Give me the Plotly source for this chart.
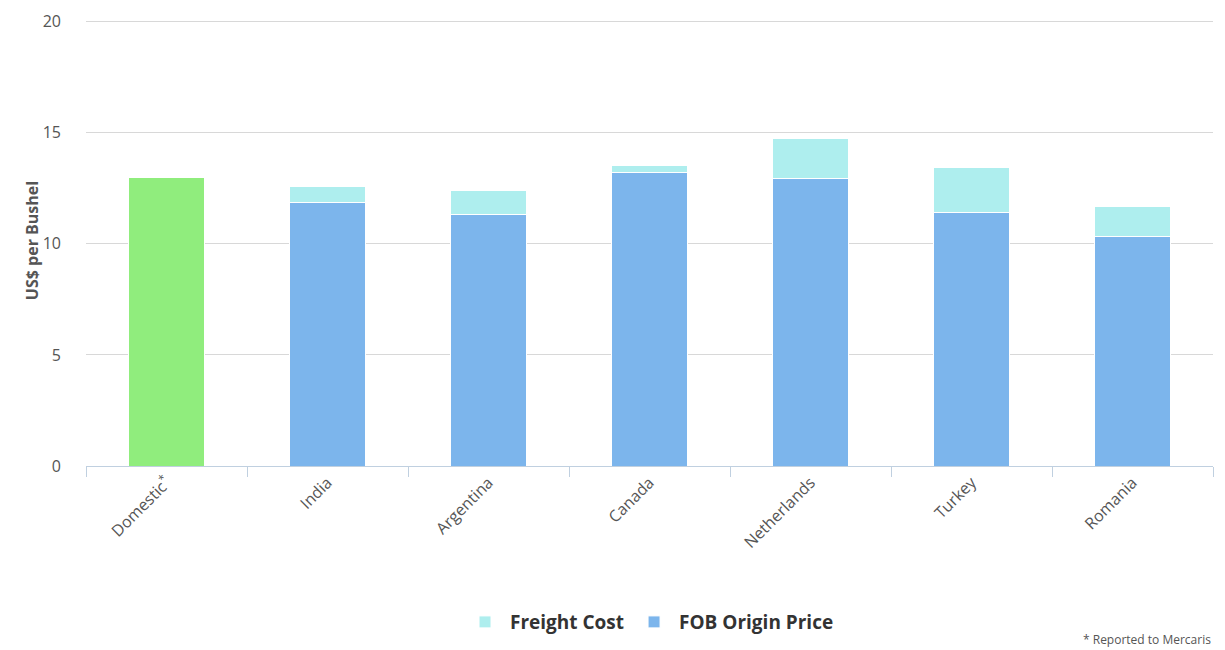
import plotly.graph_objects as go

categories = ["Domestic<sup>*</sup>", "India", "Argentina", "Canada", "Netherlands", "Turkey", "Romania"]
domestic_price = [13.0, None, None, None, None, None, None]
fob_origin_price = [None, 11.85, 11.32, 13.23, 12.93, 11.40, 10.32]
freight_cost = [None, 0.72, 1.10, 0.28, 1.83, 2.04, 1.38]

fig = go.Figure()
fig.add_trace(go.Bar(x=categories, y=domestic_price, name="Domestic", showlegend=False,
                     marker=dict(color="#90ed7d", line=dict(color="white", width=1)), width=0.47))
fig.add_trace(go.Bar(x=categories, y=fob_origin_price, name="FOB Origin Price",
                     marker=dict(color="#7cb5ec", line=dict(color="white", width=1)), width=0.47))
fig.add_trace(go.Bar(x=categories, y=freight_cost, name="Freight Cost",
                     marker=dict(color="#aeeeee", line=dict(color="white", width=1)), width=0.47))

fig.update_layout(
    barmode="stack",
    width=1217, height=642,
    margin=dict(l=78, r=12, t=7, b=184, autoexpand=False),
    plot_bgcolor="white", paper_bgcolor="white",
    font=dict(family="Open Sans, DejaVu Sans, sans-serif", color="#555555", size=14),
    showlegend=True,
    legend=dict(orientation="h", x=0.5, xanchor="center", y=-0.346, yanchor="middle",
                traceorder="reversed",
                font=dict(size=19, color="#333333", family="Open Sans", weight="bold"),
                itemwidth=40),
    xaxis=dict(
        showline=True, linecolor="#c0d0e0", linewidth=1,
        ticks="outside", tickson="boundaries", ticklen=10, tickcolor="#c0d0e0",
        tickangle=-45, tickfont=dict(size=16, color="#555555"),
        showgrid=False,
    ),
    yaxis=dict(
        range=[0, 20.3], tickvals=[0, 5, 10, 15, 20], showgrid=True, gridcolor="#d8d8d8", gridwidth=1,
        zeroline=False, showline=False,
        tickfont=dict(size=16, color="#555555"), ticks="", ticklabelstandoff=24,
        title=dict(text="US$ per Bushel", font=dict(size=16, color="#555555", weight="bold"), standoff=0),
    ),
    annotations=[dict(text="* Reported to Mercaris", xref="paper", yref="paper",
                      x=1.0, y=-0.384, xanchor="right", yanchor="middle", showarrow=False,
                      font=dict(size=12, color="#555555"))],
)

fig.write_html("out.html")
